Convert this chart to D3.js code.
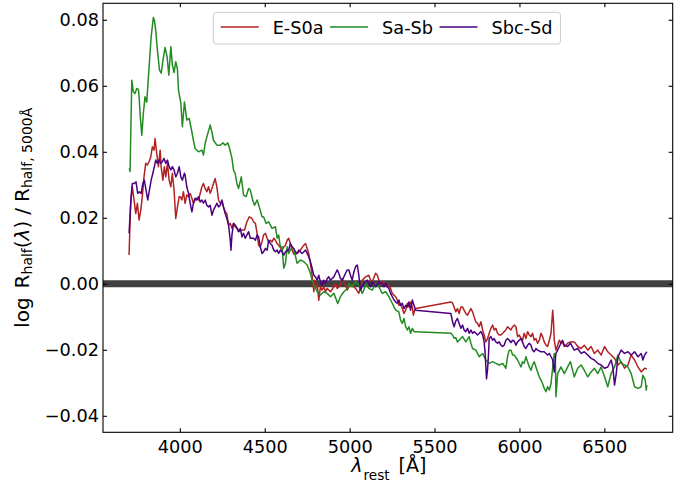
<!DOCTYPE html>
<html><head><meta charset="utf-8">
<script src="https://cdn.jsdelivr.net/npm/d3@7"></script>
<style>html,body{margin:0;padding:0;background:#fff}svg{display:block;font-family:"DejaVu Sans",sans-serif}</style>
</head><body><svg id="c" width="689" height="488"></svg>
<script>
const categories = ["E-S0a", "Sa-Sb", "Sbc-Sd"];
const seriesColors = ["#b22222", "#228b22", "#4b0082"];
const xTicks = [4000, 4500, 5000, 5500, 6000, 6500];
const yTicks = [-0.04, -0.02, 0, 0.02, 0.04, 0.06, 0.08];
const xDomain = [3547.5, 6902.5];
const yDomain = [-0.045, 0.085];

const eS0a = [[3701,0.0087],[3710,0.0240],[3720,0.0294],[3732,0.0248],[3740,0.0213],[3750,0.0244],[3760,0.0193],[3770,0.0223],[3779,0.0264],[3789,0.0324],[3799,0.0365],[3808,0.0360],[3819,0.0370],[3829,0.0385],[3838,0.0415],[3848,0.0405],[3854,0.0440],[3864,0.0395],[3874,0.0355],[3884,0.0405],[3890,0.0355],[3900,0.0314],[3909,0.0355],[3917,0.0324],[3927,0.0365],[3937,0.0314],[3947,0.0294],[3956,0.0335],[3966,0.0284],[3976,0.0198],[3986,0.0233],[3996,0.0264],[4002,0.0264],[4012,0.0254],[4021,0.0279],[4031,0.0244],[4041,0.0269],[4051,0.0264],[4061,0.0274],[4071,0.0259],[4080,0.0244],[4090,0.0254],[4100,0.0259],[4110,0.0254],[4120,0.0274],[4130,0.0294],[4139,0.0304],[4149,0.0289],[4159,0.0279],[4169,0.0294],[4179,0.0274],[4189,0.0289],[4198,0.0304],[4208,0.0319],[4218,0.0294],[4228,0.0254],[4238,0.0244],[4248,0.0248],[4257,0.0233],[4267,0.0218],[4277,0.0213],[4287,0.0178],[4297,0.0183],[4307,0.0168],[4316,0.0183],[4326,0.0173],[4336,0.0168],[4346,0.0158],[4366,0.0163],[4381,0.0163],[4395,0.0188],[4409,0.0203],[4425,0.0198],[4434,0.0188],[4445,0.0183],[4455,0.0153],[4464,0.0117],[4474,0.0112],[4484,0.0127],[4493,0.0148],[4504,0.0153],[4514,0.0138],[4523,0.0127],[4533,0.0132],[4543,0.0127],[4553,0.0138],[4563,0.0132],[4573,0.0122],[4582,0.0117],[4592,0.0110],[4602,0.0102],[4612,0.0112],[4622,0.0117],[4632,0.0132],[4641,0.0138],[4651,0.0122],[4661,0.0102],[4671,0.0090],[4691,0.0092],[4710,0.0102],[4730,0.0117],[4740,0.0122],[4750,0.0107],[4759,0.0092],[4769,0.0062],[4779,0.0026],[4789,-0.0024],[4793,0.0011],[4799,-0.0014],[4809,0.0001],[4818,-0.0050],[4828,-0.0009],[4838,-0.0019],[4848,-0.0009],[4858,-0.0024],[4868,-0.0014],[4887,-0.0024],[4907,-0.0009],[4917,0.0001],[4927,-0.0014],[4946,-0.0004],[4956,0.0016],[4966,0.0006],[4986,-0.0019],[4995,-0.0009],[5015,-0.0004],[5035,-0.0014],[5054,-0.0029],[5064,-0.0009],[5074,0.0011],[5094,0.0021],[5113,0.0026],[5123,0.0011],[5133,0.0006],[5153,0.0032],[5163,0.0026],[5172,0.0011],[5182,-0.0001],[5192,0.0006],[5212,-0.0001],[5222,-0.0009],[5231,-0.0004],[5241,-0.0014],[5251,-0.0029],[5271,-0.0039],[5280,-0.0049],[5290,-0.0065],[5300,-0.0062],[5310,-0.0075],[5320,-0.0090],[5330,-0.0080],[5340,-0.0059],[5349,-0.0070],[5359,-0.0055],[5369,-0.0070],[5375,-0.0095],[5383,-0.0080],[5389,-0.0075],[5596,-0.0055],[5606,-0.0058],[5615,-0.0070],[5625,-0.0085],[5635,-0.0075],[5645,-0.0090],[5655,-0.0070],[5665,-0.0070],[5674,-0.0080],[5684,-0.0090],[5694,-0.0095],[5704,-0.0085],[5714,-0.0075],[5724,-0.0085],[5733,-0.0100],[5743,-0.0115],[5753,-0.0120],[5763,-0.0130],[5773,-0.0115],[5783,-0.0140],[5792,-0.0155],[5802,-0.0176],[5812,-0.0166],[5822,-0.0150],[5832,-0.0135],[5842,-0.0125],[5851,-0.0140],[5861,-0.0135],[5871,-0.0150],[5881,-0.0155],[5891,-0.0155],[5901,-0.0150],[5920,-0.0140],[5930,-0.0130],[5940,-0.0135],[5950,-0.0140],[5960,-0.0130],[5970,-0.0125],[5979,-0.0130],[5989,-0.0160],[5999,-0.0155],[6009,-0.0166],[6018,-0.0171],[6028,-0.0150],[6038,-0.0166],[6048,-0.0145],[6058,-0.0155],[6068,-0.0160],[6077,-0.0150],[6087,-0.0171],[6097,-0.0166],[6107,-0.0180],[6117,-0.0171],[6127,-0.0150],[6136,-0.0160],[6146,-0.0176],[6156,-0.0186],[6166,-0.0190],[6176,-0.0171],[6186,-0.0150],[6190,-0.0120],[6196,-0.0080],[6201,-0.0120],[6205,-0.0171],[6215,-0.0201],[6225,-0.0186],[6235,-0.0171],[6245,-0.0180],[6254,-0.0176],[6264,-0.0190],[6274,-0.0186],[6284,-0.0180],[6300,-0.0176],[6323,-0.0176],[6343,-0.0190],[6363,-0.0196],[6382,-0.0186],[6402,-0.0201],[6422,-0.0190],[6441,-0.0211],[6461,-0.0201],[6481,-0.0216],[6501,-0.0190],[6520,-0.0206],[6540,-0.0216],[6560,-0.0226],[6580,-0.0246],[6599,-0.0236],[6619,-0.0256],[6639,-0.0246],[6658,-0.0216],[6678,-0.0231],[6698,-0.0252],[6717,-0.0267],[6737,-0.0256],[6750,-0.0258]];

const saSb = [[3702,0.0350],[3707,0.0340],[3717,0.0617],[3726,0.0582],[3736,0.0577],[3746,0.0592],[3756,0.0589],[3760,0.0567],[3767,0.0506],[3776,0.0450],[3785,0.0516],[3795,0.0567],[3805,0.0550],[3815,0.0627],[3823,0.0688],[3831,0.0748],[3844,0.0807],[3850,0.0799],[3858,0.0769],[3868,0.0708],[3880,0.0648],[3890,0.0638],[3901,0.0678],[3913,0.0716],[3925,0.0688],[3935,0.0632],[3947,0.0718],[3956,0.0663],[3966,0.0640],[3976,0.0673],[3986,0.0650],[3992,0.0587],[4006,0.0547],[4015,0.0476],[4027,0.0551],[4041,0.0496],[4055,0.0501],[4071,0.0460],[4080,0.0435],[4090,0.0410],[4110,0.0400],[4130,0.0405],[4139,0.0390],[4149,0.0425],[4159,0.0445],[4179,0.0481],[4189,0.0460],[4198,0.0435],[4218,0.0420],[4238,0.0420],[4254,0.0427],[4267,0.0420],[4283,0.0427],[4293,0.0410],[4307,0.0380],[4316,0.0345],[4326,0.0334],[4336,0.0304],[4346,0.0289],[4362,0.0324],[4375,0.0269],[4390,0.0264],[4405,0.0289],[4415,0.0284],[4429,0.0254],[4440,0.0238],[4455,0.0254],[4468,0.0233],[4484,0.0203],[4493,0.0203],[4508,0.0183],[4523,0.0188],[4543,0.0168],[4563,0.0173],[4573,0.0138],[4582,0.0148],[4592,0.0112],[4602,0.0112],[4612,0.0047],[4622,0.0062],[4632,0.0112],[4641,0.0092],[4661,0.0112],[4671,0.0105],[4691,0.0062],[4710,0.0072],[4730,0.0067],[4750,0.0057],[4769,0.0032],[4779,0.0011],[4789,-0.0004],[4799,-0.0014],[4809,-0.0024],[4828,-0.0034],[4848,-0.0024],[4868,-0.0029],[4887,-0.0039],[4907,-0.0029],[4930,-0.0060],[4946,-0.0039],[4966,-0.0024],[4986,-0.0014],[4995,0.0001],[5015,-0.0009],[5035,0.0006],[5054,-0.0004],[5074,-0.0029],[5084,-0.0019],[5094,0.0001],[5113,-0.0014],[5133,-0.0019],[5153,0.0001],[5172,-0.0009],[5192,-0.0029],[5212,-0.0024],[5231,-0.0039],[5251,-0.0059],[5271,-0.0080],[5290,-0.0085],[5300,-0.0110],[5310,-0.0120],[5320,-0.0105],[5330,-0.0130],[5340,-0.0140],[5349,-0.0130],[5359,-0.0150],[5369,-0.0135],[5379,-0.0145],[5389,-0.0145],[5596,-0.0150],[5606,-0.0155],[5615,-0.0165],[5625,-0.0163],[5635,-0.0176],[5645,-0.0171],[5665,-0.0160],[5684,-0.0176],[5704,-0.0160],[5714,-0.0180],[5724,-0.0196],[5743,-0.0201],[5763,-0.0221],[5783,-0.0211],[5802,-0.0231],[5822,-0.0241],[5842,-0.0236],[5861,-0.0241],[5881,-0.0246],[5901,-0.0241],[5920,-0.0256],[5930,-0.0220],[5940,-0.0201],[5950,-0.0201],[5960,-0.0216],[5970,-0.0216],[5989,-0.0231],[6009,-0.0252],[6018,-0.0236],[6028,-0.0241],[6038,-0.0221],[6048,-0.0236],[6058,-0.0252],[6068,-0.0262],[6077,-0.0246],[6087,-0.0236],[6097,-0.0252],[6107,-0.0267],[6117,-0.0282],[6127,-0.0292],[6136,-0.0302],[6146,-0.0317],[6156,-0.0327],[6166,-0.0312],[6176,-0.0322],[6186,-0.0302],[6196,-0.0252],[6205,-0.0211],[6211,-0.0221],[6215,-0.0342],[6225,-0.0272],[6245,-0.0252],[6264,-0.0272],[6284,-0.0252],[6300,-0.0236],[6323,-0.0282],[6343,-0.0256],[6363,-0.0246],[6382,-0.0262],[6402,-0.0282],[6422,-0.0267],[6441,-0.0256],[6461,-0.0272],[6481,-0.0252],[6501,-0.0282],[6520,-0.0312],[6540,-0.0272],[6560,-0.0252],[6580,-0.0216],[6599,-0.0241],[6619,-0.0246],[6639,-0.0252],[6658,-0.0272],[6678,-0.0312],[6698,-0.0317],[6717,-0.0312],[6727,-0.0277],[6741,-0.0292],[6747,-0.0322],[6750,-0.0307]];

const sbcSd = [[3701,0.0153],[3713,0.0264],[3720,0.0304],[3732,0.0304],[3742,0.0309],[3752,0.0274],[3761,0.0279],[3772,0.0274],[3782,0.0304],[3791,0.0314],[3801,0.0284],[3811,0.0254],[3821,0.0284],[3831,0.0314],[3841,0.0335],[3850,0.0355],[3858,0.0375],[3868,0.0365],[3878,0.0375],[3888,0.0365],[3897,0.0370],[3907,0.0380],[3917,0.0365],[3927,0.0375],[3937,0.0355],[3947,0.0345],[3956,0.0355],[3966,0.0345],[3976,0.0324],[3986,0.0335],[3996,0.0355],[4006,0.0324],[4015,0.0314],[4027,0.0335],[4031,0.0330],[4041,0.0294],[4051,0.0274],[4061,0.0244],[4071,0.0218],[4080,0.0244],[4090,0.0259],[4100,0.0254],[4110,0.0264],[4120,0.0248],[4130,0.0254],[4139,0.0244],[4149,0.0254],[4159,0.0238],[4169,0.0233],[4179,0.0238],[4189,0.0208],[4198,0.0223],[4208,0.0233],[4218,0.0244],[4228,0.0233],[4238,0.0238],[4248,0.0254],[4257,0.0233],[4267,0.0213],[4277,0.0198],[4287,0.0178],[4297,0.0132],[4301,0.0102],[4307,0.0148],[4316,0.0183],[4326,0.0178],[4336,0.0170],[4346,0.0158],[4356,0.0168],[4366,0.0142],[4375,0.0153],[4385,0.0138],[4395,0.0148],[4405,0.0158],[4415,0.0138],[4434,0.0138],[4445,0.0132],[4455,0.0148],[4464,0.0142],[4474,0.0112],[4484,0.0092],[4493,0.0097],[4504,0.0107],[4514,0.0102],[4523,0.0132],[4533,0.0122],[4543,0.0117],[4553,0.0102],[4563,0.0097],[4573,0.0102],[4582,0.0092],[4592,0.0102],[4602,0.0097],[4612,0.0087],[4622,0.0097],[4632,0.0102],[4641,0.0102],[4651,0.0122],[4661,0.0112],[4671,0.0107],[4681,0.0097],[4691,0.0092],[4700,0.0102],[4710,0.0097],[4720,0.0092],[4730,0.0097],[4740,0.0102],[4750,0.0092],[4759,0.0082],[4769,0.0067],[4779,0.0047],[4789,0.0026],[4799,0.0021],[4809,0.0011],[4818,0.0026],[4828,0.0006],[4838,-0.0004],[4848,0.0011],[4858,0.0001],[4868,0.0016],[4877,0.0021],[4887,0.0011],[4897,0.0016],[4907,0.0021],[4917,0.0032],[4927,0.0042],[4936,0.0032],[4946,0.0016],[4956,0.0011],[4966,0.0021],[4976,0.0032],[4986,0.0042],[4995,0.0042],[5005,0.0026],[5015,0.0011],[5025,0.0036],[5035,0.0052],[5045,0.0057],[5054,0.0026],[5064,-0.0019],[5074,-0.0009],[5084,0.0001],[5094,0.0006],[5104,0.0011],[5113,0.0001],[5123,-0.0009],[5133,0.0006],[5143,0.0001],[5153,-0.0009],[5172,0.0006],[5192,0.0001],[5202,-0.0009],[5212,0.0001],[5222,-0.0009],[5231,-0.0014],[5241,-0.0029],[5251,-0.0039],[5261,-0.0049],[5271,-0.0055],[5280,-0.0059],[5290,-0.0049],[5300,-0.0065],[5310,-0.0059],[5320,-0.0075],[5330,-0.0065],[5340,-0.0070],[5349,-0.0055],[5359,-0.0080],[5369,-0.0049],[5379,-0.0065],[5389,-0.0080],[5596,-0.0090],[5606,-0.0115],[5615,-0.0130],[5625,-0.0113],[5635,-0.0105],[5645,-0.0120],[5655,-0.0135],[5665,-0.0125],[5674,-0.0140],[5684,-0.0145],[5694,-0.0135],[5704,-0.0150],[5714,-0.0140],[5724,-0.0150],[5733,-0.0145],[5743,-0.0150],[5753,-0.0155],[5763,-0.0150],[5773,-0.0145],[5783,-0.0155],[5792,-0.0176],[5798,-0.0211],[5806,-0.0288],[5812,-0.0262],[5818,-0.0211],[5822,-0.0166],[5832,-0.0160],[5842,-0.0171],[5851,-0.0166],[5861,-0.0176],[5871,-0.0180],[5881,-0.0176],[5891,-0.0186],[5901,-0.0190],[5910,-0.0186],[5920,-0.0171],[5930,-0.0166],[5940,-0.0171],[5950,-0.0178],[5960,-0.0171],[5970,-0.0174],[5979,-0.0186],[5989,-0.0176],[5999,-0.0171],[6009,-0.0166],[6018,-0.0176],[6028,-0.0190],[6038,-0.0196],[6048,-0.0186],[6058,-0.0180],[6068,-0.0186],[6077,-0.0201],[6087,-0.0206],[6097,-0.0196],[6107,-0.0201],[6127,-0.0206],[6146,-0.0206],[6156,-0.0211],[6166,-0.0216],[6176,-0.0211],[6186,-0.0221],[6196,-0.0231],[6205,-0.0267],[6211,-0.0231],[6215,-0.0211],[6225,-0.0201],[6235,-0.0190],[6245,-0.0180],[6254,-0.0171],[6264,-0.0186],[6284,-0.0190],[6300,-0.0180],[6323,-0.0201],[6343,-0.0196],[6363,-0.0211],[6382,-0.0206],[6402,-0.0216],[6422,-0.0226],[6441,-0.0231],[6461,-0.0241],[6481,-0.0246],[6501,-0.0256],[6520,-0.0252],[6540,-0.0231],[6550,-0.0252],[6560,-0.0307],[6570,-0.0272],[6580,-0.0221],[6599,-0.0201],[6619,-0.0211],[6639,-0.0206],[6658,-0.0216],[6678,-0.0206],[6698,-0.0221],[6717,-0.0211],[6727,-0.0231],[6737,-0.0216],[6750,-0.0206]];

const seriesData = [eS0a, saSb, sbcSd];

const svg = d3.select("#c");
const L = 103, R = 672.7, T = 3.3, B = 432.3;
const tickFont = "17.7px";
const x = d3.scaleLinear().domain(xDomain).range([L, R]);
const y = d3.scaleLinear().domain(yDomain).range([B, T]);

svg.append("rect").attr("width", 689).attr("height", 488).attr("fill", "#fff");
svg.append("clipPath").attr("id", "clip").append("rect")
  .attr("x", L).attr("y", T).attr("width", R - L).attr("height", B - T);

// zero band
svg.append("line").attr("clip-path", "url(#clip)")
  .attr("x1", L).attr("x2", R).attr("y1", y(0)).attr("y2", y(0))
  .attr("stroke", "#404040").attr("stroke-width", 7);

const line = d3.line().x(d => x(d[0])).y(d => y(d[1]));
const g = svg.append("g").attr("clip-path", "url(#clip)");
seriesData.forEach((s, i) => {
  g.append("path").datum(s).attr("d", line).attr("fill", "none")
    .attr("stroke", seriesColors[i]).attr("stroke-width", 1.5)
    .attr("stroke-linejoin", "round");
});

const fmtY = d3.format(".2f");
function styleAxis(sel) {
  sel.selectAll(".tick line").attr("stroke", "#000").attr("stroke-width", 1.1);
  sel.selectAll(".tick text").attr("fill", "#000").style("font-size", tickFont).style("font-family", '"DejaVu Sans",sans-serif');
}
svg.append("g").attr("transform", `translate(0,${B})`)
  .call(d3.axisBottom(x).tickValues(xTicks).tickFormat(d3.format("d")).tickSizeInner(-4).tickSizeOuter(0).tickPadding(8.5))
  .call(styleAxis);
svg.append("g").attr("transform", `translate(0,${T})`)
  .call(d3.axisTop(x).tickValues(xTicks).tickFormat("").tickSizeInner(-4).tickSizeOuter(0))
  .call(styleAxis);
svg.append("g").attr("transform", `translate(${L},0)`)
  .call(d3.axisLeft(y).tickValues(yTicks).tickFormat(fmtY).tickSizeInner(-4).tickSizeOuter(0).tickPadding(4))
  .call(styleAxis);
svg.append("g").attr("transform", `translate(${R},0)`)
  .call(d3.axisRight(y).tickValues(yTicks).tickFormat("").tickSizeInner(-4).tickSizeOuter(0))
  .call(styleAxis);
svg.selectAll(".domain").remove();
svg.append("rect").attr("x", L).attr("y", T).attr("width", R - L).attr("height", B - T)
  .attr("fill", "none").attr("stroke", "#000").attr("stroke-width", 1.1);

// x axis label
const xl = svg.append("text").attr("x", (L + R) / 2 + 1).attr("y", 472)
  .attr("text-anchor", "middle").style("font-size", "19px").attr("fill", "#000");
xl.append("tspan").text("λ").style("font-style", "italic");
xl.append("tspan").text("rest").style("font-size", "13.6px").attr("dy", 7.5).attr("dx", 1);
xl.append("tspan").text("[Å]").attr("dy", -7.5).attr("dx", 9);

// y axis label
const yl = svg.append("text").attr("transform", `translate(29,${(T + B) / 2}) rotate(-90)`)
  .attr("text-anchor", "middle").style("font-size", "20px").attr("fill", "#000");
yl.append("tspan").text("log");
yl.append("tspan").text("R").attr("dx", 9);
yl.append("tspan").text("half").style("font-size", "14px").attr("dy", 3);
yl.append("tspan").text("(").attr("dy", -3);
yl.append("tspan").text("λ").style("font-style", "italic");
yl.append("tspan").text(")");
yl.append("tspan").text("/").attr("dx", 6);
yl.append("tspan").text("R").attr("dx", 6);
yl.append("tspan").text("half, 5000Å").style("font-size", "14px").attr("dy", 3);

// legend
const lg = svg.append("g");
const lgX = 213.3;
const box = lg.append("rect").attr("x", lgX).attr("y", 12.3).attr("height", 31.7)
  .attr("rx", 3).attr("fill", "#fff").attr("fill-opacity", 0.8)
  .attr("stroke", "#cccccc").attr("stroke-width", 1);
let cx = lgX + 7.4;
categories.forEach((c, i) => {
  lg.append("line").attr("x1", cx).attr("x2", cx + 38).attr("y1", 27).attr("y2", 27)
    .attr("stroke", seriesColors[i]).attr("stroke-width", 1.5);
  const t = lg.append("text").attr("x", cx + 38 + 14).attr("y", 33.5)
    .style("font-size", tickFont).attr("fill", "#000").text(c);
  const w = t.node().getComputedTextLength();
  cx = cx + 38 + 14 + w + (i < categories.length - 1 ? 6.5 : 8);
});
box.attr("width", cx - lgX);
</script></body></html>
